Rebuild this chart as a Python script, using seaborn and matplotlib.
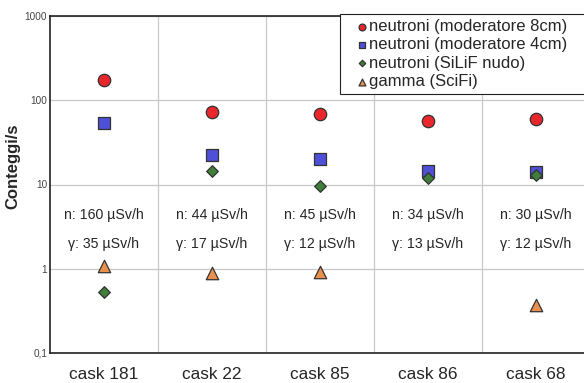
import matplotlib
matplotlib.use("Agg")
import matplotlib.pyplot as plt
import seaborn as sns
import numpy as np
import pandas as pd
from matplotlib.ticker import LogLocator, FixedLocator, NullFormatter

casks = ["cask 181", "cask 22", "cask 85", "cask 86", "cask 68"]
mod8 = [175, 73, 69, 57, 60]
mod4 = [53, 22.6, 20.3, 14.3, 14]
silif = [0.53, 14.3, 9.7, 12.1, 12.8]
gamma = [1.07, 0.88, 0.91, np.nan, 0.37]
dose_n = ["160", "44", "45", "34", "30"]
dose_g = ["35", "17", "12", "13", "12"]

series_names = ["neutroni (moderatore 8cm)", "neutroni (moderatore 4cm)",
                "neutroni (SiLiF nudo)", "gamma (SciFi)"]
series_vals = [mod8, mod4, silif, gamma]
colors = ["#E8262C", "#4F50D8", "#3F7F3A", "#E8904C"]
markers = ["o", "s", "D", "^"]
sizes = [80, 80, 35, 80]

rows = []
for name, vals in zip(series_names, series_vals):
    for c, v in zip(casks, vals):
        rows.append({"cask": c, "serie": name, "val": v})
df = pd.DataFrame(rows)

sns.set_style("white")
plt.rcParams['font.family'] = ['Liberation Sans', 'DejaVu Sans']

fig = plt.figure(figsize=(5.84, 3.83), dpi=100)
ax = fig.add_axes([50/584, 30/383, 540/584, 337/383])

for name, col, mk, sz in zip(series_names, colors, markers, sizes):
    sub = df[df["serie"] == name].dropna()
    sns.scatterplot(data=sub, x="cask", y="val", ax=ax, color=col, marker=mk,
                    s=sz, edgecolor="#333333", linewidth=0.9, label=name, zorder=3)

ax.set_yscale("log")
ax.set_ylim(0.1, 1000)
ax.set_xlim(-0.5, 4.5)
ax.set_xticks(range(len(casks)))
ax.set_xticklabels(casks, fontsize=12.4)
ax.set_yticks([0.1, 1, 10, 100, 1000])
ax.set_yticklabels(["0,1", "1", "10", "100", "1000"], fontsize=7.2, color="#444444")
ax.yaxis.set_minor_locator(LogLocator(base=10, subs=np.arange(2, 10)))
ax.yaxis.set_minor_formatter(NullFormatter())
ax.tick_params(axis="y", which="major", direction="in", length=5, width=0.8, pad=2)
ax.tick_params(axis="y", which="minor", direction="in", length=2.5, width=0.6)
ax.tick_params(axis="x", which="major", direction="in", length=3, width=0.8, pad=10)
ax.xaxis.set_minor_locator(FixedLocator([0.5, 1.5, 2.5, 3.5]))
ax.tick_params(axis="x", which="minor", direction="in", length=3, width=0.8)

ax.grid(True, which="major", axis="y", color="#c8c8c8", linewidth=0.9)
ax.grid(True, which="minor", axis="x", color="#c8c8c8", linewidth=0.9)
ax.set_axisbelow(True)
for sp in ax.spines.values():
    sp.set_color("#222222")
    sp.set_linewidth(1.2)

ax.set_xlabel("")
ax.set_ylabel("Conteggi/s", fontsize=12, fontweight="bold")
ax.yaxis.set_label_coords(-30/540, 0.555)

for i, (dn, dg) in enumerate(zip(dose_n, dose_g)):
    ax.text(i, 4.4, f"n: {dn} µSv/h", ha="center", va="center", fontsize=10.2)
    ax.text(i, 1.95, f"γ: {dg} µSv/h", ha="center", va="center", fontsize=10.2)

leg = ax.legend(loc="upper left",
                bbox_to_anchor=(340/584, 1 - 100/383, 260/584, 86/383),
                mode="expand",
                bbox_transform=fig.transFigure, fontsize=12, frameon=True,
                fancybox=False, edgecolor="#222222", handletextpad=-0.55,
                handlelength=2.0, borderpad=0.3, labelspacing=0.2,
                borderaxespad=0, markerscale=0.55, framealpha=1)
leg.get_frame().set_linewidth(0.8)

fig.savefig("out.png", dpi=100)
